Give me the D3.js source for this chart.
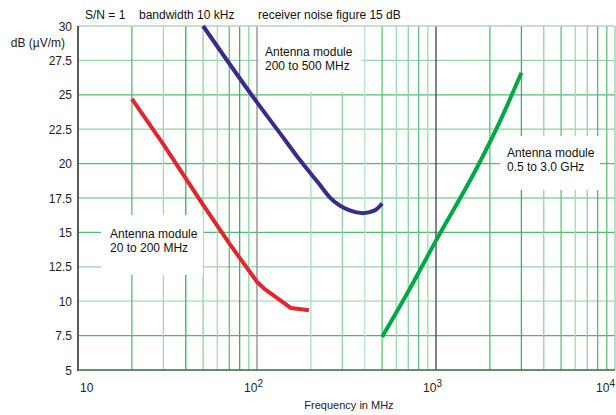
<!DOCTYPE html>
<html>
<head>
<meta charset="utf-8">
<script src="https://cdn.jsdelivr.net/npm/d3@7"></script>
<style>
  html, body { margin: 0; padding: 0; background: #fff; }
  svg { display: block; font-family: "Liberation Sans", Arial, sans-serif; }
</style>
</head>
<body>
<svg id="chart" width="616" height="415"></svg>
<script>
// ---- data ----
const redFreq   = [20, 30, 50, 70, 100, 110, 155, 195];
const redValue  = [24.7, 21.4, 17.0, 14.2, 11.4, 10.9, 9.5, 9.35];

const blueFreq  = [50, 100, 140, 175, 220, 255, 330, 390, 455, 500];
const blueValue = [30, 24.45, 21.9, 20.2, 18.6, 17.55, 16.6, 16.4, 16.6, 17.1];

const greenFreq  = [500, 700, 1000, 1700, 2300, 3000];
const greenValue = [7.4, 10.7, 14.4, 19.75, 23.2, 26.6];

const yTicks = [5, 7.5, 10, 12.5, 15, 17.5, 20, 22.5, 25, 27.5, 30];
const yTickLabels = ["5", "7.5", "10", "12.5", "15", "17.5", "20", "22.5", "25", "27.5", "30"];
const xDecades = [10, 100, 1000, 10000];
const xDecadeExp = ["", "2", "3", "4"];
const titles = ["S/N = 1", "bandwidth 10 kHz", "receiver noise figure 15 dB"];
const labelRed = ["Antenna module", "20 to 200 MHz"];
const labelBlue = ["Antenna module", "200 to 500 MHz"];
const labelGreen = ["Antenna module", "0.5 to 3.0 GHz"];

// ---- layout ----
const svg = d3.select("#chart");
const x = d3.scaleLog().domain([10, 10000]).range([78, 615]);
const y = d3.scaleLinear().domain([5, 30]).range([370, 26]);

const minorShades = [
  ["#4cc070","#a0dbb0","#3cb060","#8fd3a3","#a0dbb0","#5cc37c","#3cb060","#8fd3a3"],
  ["#a8dfb8","#8fd3a3","#b8e6c6","#5cc37c","#a0dbb0","#8fd3a3","#5cc37c","#a0dbb0"],
  ["#4cc070","#3cb060","#8fd3a3","#5cc37c","#a0dbb0","#8fd3a3","#4cc070","#5cc37c"]
];
const hShades = {7.5:"#4cb86c", 10:"#a8dcb8", 12.5:"#98d4aa", 15:"#4cc070", 17.5:"#8fd3a3",
                 20:"#4cc070", 22.5:"#8fd3a3", 25:"#4cc070", 27.5:"#98d8aa"};

const grid = svg.append("g");
yTicks.filter(v => v > 5 && v < 30).forEach(v => {
  grid.append("line").attr("x1", x(10)).attr("x2", x(10000))
    .attr("y1", y(v)).attr("y2", y(v))
    .attr("stroke", hShades[v]).attr("stroke-width", 1.3);
});
[10, 100, 1000].forEach((d, i) => {
  for (let k = 2; k <= 9; k++) {
    grid.append("line").attr("x1", x(d * k)).attr("x2", x(d * k))
      .attr("y1", y(30)).attr("y2", y(5))
      .attr("stroke", minorShades[i][k - 2]).attr("stroke-width", 1.3);
  }
});
grid.append("line").attr("x1", x(100)).attr("x2", x(100)).attr("y1", y(30)).attr("y2", y(5))
  .attr("stroke", "#9a9a9a").attr("stroke-width", 1.5);
grid.append("line").attr("x1", x(1000)).attr("x2", x(1000)).attr("y1", y(30)).attr("y2", y(5))
  .attr("stroke", "#333").attr("stroke-width", 1.2);
grid.append("line").attr("x1", x(10000)).attr("x2", x(10000)).attr("y1", y(30)).attr("y2", y(5))
  .attr("stroke", "#8fd3a3").attr("stroke-width", 1.3);
grid.append("line").attr("x1", x(10)).attr("x2", x(10000)).attr("y1", y(30)).attr("y2", y(30))
  .attr("stroke", "#b8cfbf").attr("stroke-width", 1.5);

function box(x0, y0, x1, y1) {
  svg.append("rect").attr("x", x0).attr("y", y0).attr("width", x1 - x0).attr("height", y1 - y0)
    .attr("fill", "#fff");
}
box(101, 215, 203, 275);
box(259, 27, 362, 92);
box(500, 136, 600, 190);

svg.append("line").attr("x1", x(10)).attr("x2", x(10000)).attr("y1", y(5)).attr("y2", y(5))
  .attr("stroke", "#2f6a42").attr("stroke-width", 1.6);
svg.append("line").attr("x1", x(10)).attr("x2", x(10)).attr("y1", y(30)).attr("y2", y(5) + 1)
  .attr("stroke", "#5a5a5a").attr("stroke-width", 2);

function series(fr, vals, color, curve) {
  const line = d3.line().x(d => x(d[0])).y(d => y(d[1])).curve(curve);
  svg.append("path").datum(fr.map((f, i) => [f, vals[i]]))
    .attr("d", line).attr("fill", "none").attr("stroke", color)
    .attr("stroke-width", 4).attr("stroke-linecap", "butt").attr("stroke-linejoin", "round");
}
series(redFreq, redValue, "#e0262e", d3.curveLinear);
series(blueFreq, blueValue, "#3b2a8a", d3.curveMonotoneX);
series(greenFreq, greenValue, "#00a845", d3.curveMonotoneX);

svg.append("g").selectAll("text").data(yTicks).join("text")
  .attr("x", 72).attr("y", d => y(d) + 4.5).attr("text-anchor", "end")
  .attr("font-size", 12).attr("fill", "#222").text((d, i) => yTickLabels[i]);
svg.append("text").attr("x", 65).attr("y", 47).attr("text-anchor", "end")
  .attr("font-size", 12).attr("fill", "#222").text("dB (µV/m)");

xDecades.forEach((d, i) => {
  const t = svg.append("text").attr("y", 392).attr("font-size", 12).attr("fill", "#222");
  if (i === 0) {
    t.attr("x", x(d) + 2).attr("text-anchor", "start").text("10");
  } else {
    const xx = i === 3 ? 615 : x(d) + 6;
    t.attr("x", xx).attr("text-anchor", "end");
    t.append("tspan").text("10");
    t.append("tspan").attr("dy", -5).attr("font-size", 10).text(xDecadeExp[i]);
  }
});
svg.append("text").attr("x", 349).attr("y", 409).attr("text-anchor", "middle")
  .attr("font-size", 11).attr("fill", "#222").text("Frequency in MHz");

const titleX = [85, 139, 258];
titles.forEach((t, i) => {
  svg.append("text").attr("x", titleX[i]).attr("y", 19).attr("font-size", 12)
    .attr("fill", "#111").text(t);
});

function label(lines, x0, y0) {
  lines.forEach((l, i) => {
    svg.append("text").attr("x", x0).attr("y", y0 + i * 13.5).attr("font-size", 12)
      .attr("fill", "#111").text(l);
  });
}
label(labelRed, 110, 238);
label(labelBlue, 265, 56);
label(labelGreen, 507, 157);
</script>
</body>
</html>
